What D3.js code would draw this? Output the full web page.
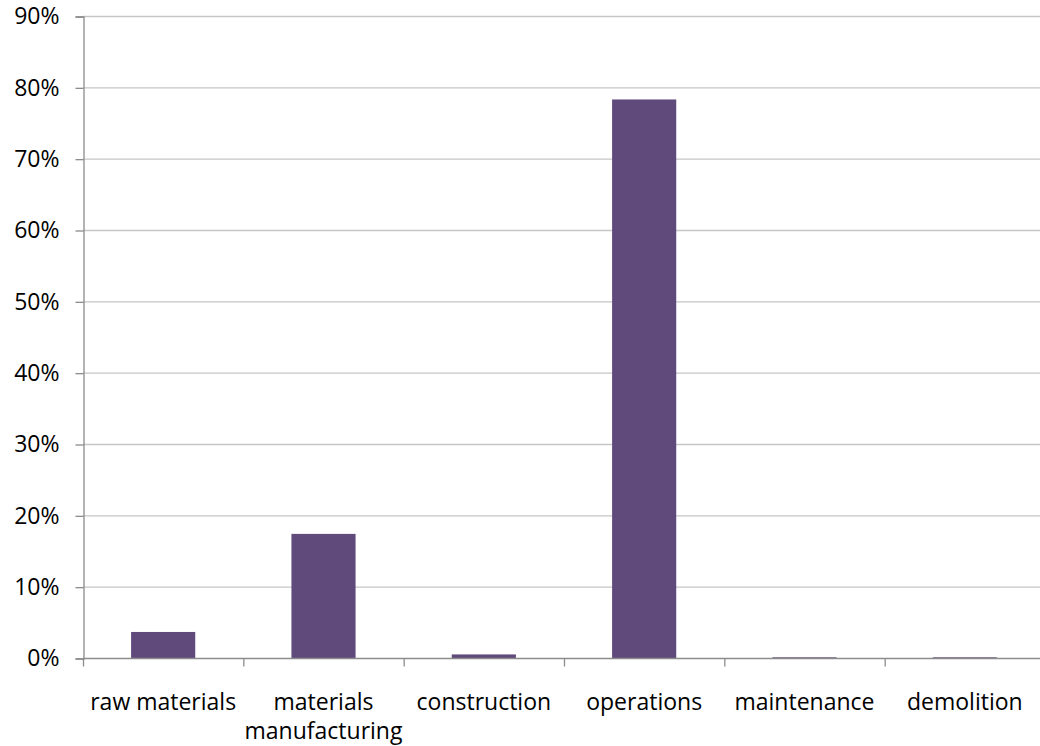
<!DOCTYPE html>
<html><head><meta charset="utf-8">
<script src="https://cdn.jsdelivr.net/npm/d3@7"></script>
<style>body{margin:0;background:#fff;} svg{display:block;} text{font-family:"Open Sans",sans-serif;}</style>
</head><body>
<svg id="c" width="1040" height="746"></svg>
<script>
const categories = ["raw materials", "materials manufacturing", "construction", "operations", "maintenance", "demolition"];
const values = [0.0365, 0.174, 0.005, 0.783, 0.001, 0.001];
const yTicks = [0, 0.1, 0.2, 0.3, 0.4, 0.5, 0.6, 0.7, 0.8, 0.9];

(function () {
const svg = d3.select("#c");
const mLeft = 83, mRight = 1045, mTop = 16, mBottom = 658;
const x = d3.scaleBand().domain(categories).range([mLeft, mRight]).paddingInner(0).paddingOuter(0);
const y = d3.scaleLinear().domain([0, 0.9]).range([mBottom, mTop]);

// gridlines
svg.append("g").selectAll("line").data(yTicks.filter(d => d > 0)).join("line")
  .attr("x1", mLeft).attr("x2", mRight).attr("y1", d => y(d) + 0.5).attr("y2", d => y(d) + 0.5)
  .attr("stroke", "#c6c6c6").attr("stroke-width", 1.3);

// bars
const bw = x.bandwidth() * 0.4;
svg.append("g").selectAll("rect").data(categories).join("rect")
  .attr("x", (d) => x(d) + (x.bandwidth() - bw) / 2)
  .attr("width", bw)
  .attr("y", (d, i) => y(values[i]))
  .attr("height", (d, i) => y(0) - y(values[i]))
  .attr("fill", "#604a7b");

// y axis
const yAxis = d3.axisLeft(y).tickValues(yTicks).tickFormat(d3.format(".0%")).tickSize(8).tickPadding(16);
const gy = svg.append("g").attr("transform", `translate(${mLeft + 0.5},0.5)`).call(yAxis);
gy.select(".domain").attr("stroke", "#8c8c8c").attr("stroke-width", 1.3);
gy.selectAll(".tick line").attr("stroke", "#8c8c8c").attr("stroke-width", 1.3);
gy.selectAll(".tick text").attr("font-size", 23).attr("fill", "#000").attr("font-family", "'Open Sans', sans-serif");

// x axis
const gx = svg.append("g").attr("transform", `translate(0,${mBottom + 0.5})`);
gx.append("line").attr("x1", mLeft).attr("x2", mRight).attr("stroke", "#8c8c8c").attr("stroke-width", 1.3);
const bounds = categories.map(c => x(c)).concat([mRight]);
gx.selectAll(".xt").data(bounds).join("line").attr("class", "xt")
  .attr("x1", d => d + 0.5).attr("x2", d => d + 0.5).attr("y1", 0).attr("y2", 8)
  .attr("stroke", "#8c8c8c").attr("stroke-width", 1.3);

const labelLines = { "materials manufacturing": ["materials", "manufacturing"] };
const lab = svg.append("g");
categories.forEach(c => {
  const lines = labelLines[c] || [c];
  const t = lab.append("text").attr("x", x(c) + x.bandwidth() / 2).attr("y", 710)
    .attr("text-anchor", "middle").attr("font-size", 23).attr("fill", "#000");
  lines.forEach((l, i) => t.append("tspan").attr("x", x(c) + x.bandwidth() / 2).attr("dy", i === 0 ? 0 : 29).text(l));
});
})();
</script>
</body></html>
